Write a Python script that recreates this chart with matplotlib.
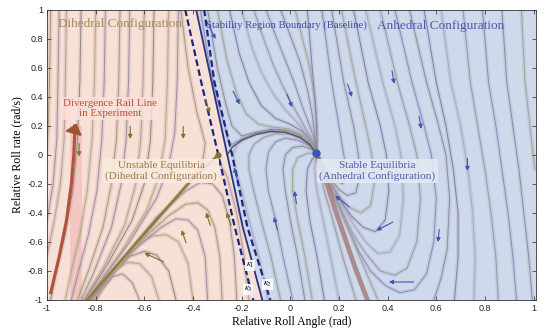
import matplotlib.pyplot as plt
import numpy as np

plt.rcParams['font.family'] = ['Liberation Serif', 'DejaVu Serif']
plt.rcParams['mathtext.fontset'] = 'stix'

# --- stability boundaries (x at the given y levels) ---
bnd_y = [1.0, 0.5, 0.0, -0.5, -1.0]
left_dash_x = [-0.432, -0.366, -0.296, -0.228, -0.152]
base_x = [-0.387, -0.323, -0.259, -0.195, -0.115]
right_dash_x = [-0.354, -0.312, -0.239, -0.176, -0.082]

# --- special trajectories ---
rail_x = [-0.885, -0.89, -0.90, -0.92, -0.95, -0.985]
rail_y = [0.2, 0.0, -0.2, -0.45, -0.7, -0.95]
diag_x = [-0.835, -0.63, -0.42, -0.36, -0.296]
diag_y = [-1.0, -0.6, -0.2, -0.1, 0.0]
arc_x = [-0.259, -0.24, -0.2, -0.14, -0.08, -0.02, 0.04, 0.08, 0.107]
arc_y = [0.0, 0.05, 0.1, 0.14, 0.16, 0.155, 0.12, 0.07, 0.01]
sep_x = [0.107, 0.13, 0.155, 0.185, 0.22, 0.265, 0.317]
sep_y = [0.01, -0.1, -0.22, -0.38, -0.55, -0.77, -1.0]

# --- trajectories, dihedral side ---
dihedral_curves = [
    [(-0.985, 1), (-0.99, 0.5), (-0.995, 0.2), (-1.0, 0.0)],
    [(-0.95, 1), (-0.955, 0.5), (-0.96, 0.1), (-0.975, -0.2), (-1.0, -0.45)],
    [(-0.92, 1), (-0.925, 0.5), (-0.93, 0.1), (-0.945, -0.2), (-0.97, -0.45), (-1.0, -0.7)],
    [(-0.86, 1), (-0.865, 0.5), (-0.875, 0.1), (-0.895, -0.25), (-0.925, -0.55), (-0.96, -0.8), (-0.985, -1)],
    [(-0.80, 1), (-0.805, 0.5), (-0.815, 0.1), (-0.835, -0.25), (-0.865, -0.55), (-0.9, -0.8), (-0.925, -1)],
    [(-0.76, 1), (-0.765, 0.5), (-0.775, 0.1), (-0.795, -0.25), (-0.83, -0.55), (-0.87, -0.8), (-0.9, -1)],
    [(-0.70, 1), (-0.705, 0.5), (-0.715, 0.1), (-0.735, -0.2), (-0.77, -0.5), (-0.83, -0.8), (-0.875, -1)],
    [(-0.66, 1), (-0.665, 0.5), (-0.675, 0.1), (-0.695, -0.2), (-0.735, -0.5), (-0.81, -0.82), (-0.86, -1)],
    [(-0.60, 1), (-0.605, 0.5), (-0.615, 0.1), (-0.635, -0.2), (-0.68, -0.48), (-0.77, -0.78), (-0.85, -1)],
    [(-0.56, 1), (-0.565, 0.5), (-0.575, 0.1), (-0.60, -0.2), (-0.65, -0.45), (-0.75, -0.75), (-0.845, -1)],
    [(-0.50, 1), (-0.505, 0.5), (-0.515, 0.1), (-0.54, -0.15), (-0.59, -0.38), (-0.70, -0.68), (-0.84, -1)],
    [(-0.46, 1), (-0.465, 0.5), (-0.475, 0.15), (-0.50, -0.08), (-0.55, -0.3), (-0.66, -0.6), (-0.835, -1)],
    [(-0.45, 1), (-0.42, 0.6), (-0.385, 0.3), (-0.35, 0.08), (-0.36, -0.05), (-0.42, -0.2), (-0.63, -0.6), (-0.835, -1)],
    # arcs under the separatrix
    [(-0.62, -1), (-0.65, -0.88), (-0.69, -0.82), (-0.73, -0.84), (-0.77, -0.92), (-0.80, -1)],
    [(-0.54, -1), (-0.57, -0.84), (-0.62, -0.75), (-0.67, -0.74), (-0.72, -0.8), (-0.77, -0.91), (-0.81, -1)],
    [(-0.47, -1), (-0.50, -0.8), (-0.55, -0.69), (-0.60, -0.665), (-0.66, -0.7), (-0.72, -0.8), (-0.78, -0.92), (-0.82, -1)],
    [(-0.40, -1), (-0.42, -0.75), (-0.46, -0.6), (-0.51, -0.55), (-0.57, -0.56), (-0.62, -0.62), (-0.67, -0.7), (-0.72, -0.8), (-0.765, -0.9), (-0.80, -1)],
    [(-0.34, -1), (-0.35, -0.7), (-0.38, -0.52), (-0.42, -0.45), (-0.47, -0.44), (-0.53, -0.5), (-0.62, -0.62), (-0.70, -0.75), (-0.79, -0.92), (-0.815, -1)],
    [(-0.28, -1), (-0.29, -0.7), (-0.31, -0.5), (-0.34, -0.38), (-0.38, -0.33), (-0.43, -0.34), (-0.5, -0.42), (-0.6, -0.57), (-0.7, -0.74), (-0.8, -0.94), (-0.82, -1)],
    [(-0.22, -1), (-0.23, -0.7), (-0.25, -0.45), (-0.28, -0.28), (-0.32, -0.2), (-0.37, -0.19), (-0.43, -0.25), (-0.55, -0.43), (-0.68, -0.7), (-0.825, -1)],
    [(-0.17, -1), (-0.19, -0.7), (-0.22, -0.4), (-0.26, -0.15), (-0.29, -0.06), (-0.33, -0.06), (-0.38, -0.13), (-0.43, -0.22), (-0.6, -0.56), (-0.83, -1)],
]

# --- trajectories, anhedral side ---
anhedral_curves = [
    [(-0.37, 1), (-0.33, 0.6), (-0.295, 0.35), (-0.27, 0.2), (-0.255, 0.1), (-0.24, 0.07), (-0.2, 0.11), (-0.14, 0.15), (-0.08, 0.168), (-0.02, 0.163), (0.04, 0.128), (0.08, 0.075), (0.107, 0.015)],
    [(-0.34, 1), (-0.30, 0.6), (-0.265, 0.35), (-0.24, 0.2), (-0.2, 0.13), (-0.14, 0.155), (-0.08, 0.175), (-0.02, 0.17), (0.04, 0.135), (0.085, 0.075), (0.107, 0.02)],
    [(-0.30, 1), (-0.26, 0.65), (-0.22, 0.42), (-0.18, 0.28), (-0.13, 0.21), (-0.07, 0.19), (-0.01, 0.18), (0.05, 0.14), (0.09, 0.08), (0.107, 0.02)],
    [(-0.25, 1), (-0.21, 0.7), (-0.17, 0.5), (-0.12, 0.34), (-0.06, 0.25), (0.0, 0.21), (0.05, 0.16), (0.09, 0.09), (0.107, 0.02)],
    [(-0.20, 1), (-0.16, 0.75), (-0.12, 0.57), (-0.07, 0.42), (-0.02, 0.31), (0.03, 0.22), (0.07, 0.14), (0.1, 0.07), (0.107, 0.02)],
    [(-0.15, 1), (-0.11, 0.8), (-0.07, 0.62), (-0.03, 0.47), (0.01, 0.34), (0.05, 0.22), (0.08, 0.13), (0.1, 0.06), (0.107, 0.02)],
    [(-0.10, 1), (-0.06, 0.82), (-0.02, 0.65), (0.02, 0.48), (0.05, 0.33), (0.08, 0.2), (0.1, 0.1), (0.107, 0.02)],
    [(-0.04, 1), (0.0, 0.82), (0.04, 0.64), (0.07, 0.45), (0.09, 0.28), (0.1, 0.14), (0.107, 0.02)],
    [(0.02, 1), (0.05, 0.8), (0.08, 0.6), (0.1, 0.4), (0.11, 0.2), (0.108, 0.03)],
    [(0.07, 1), (0.09, 0.6), (0.105, 0.3), (0.11, 0.1), (0.108, 0.02)],
    # rising from the bottom into the stable point
    [(-0.09, -1), (-0.13, -0.7), (-0.17, -0.45), (-0.2, -0.25), (-0.225, -0.1), (-0.235, 0.0), (-0.22, 0.07), (-0.18, 0.115), (-0.12, 0.15), (-0.06, 0.163), (0.0, 0.155), (0.05, 0.115), (0.09, 0.06), (0.107, 0.01)],
    [(-0.04, -1), (-0.08, -0.7), (-0.12, -0.45), (-0.15, -0.25), (-0.17, -0.1), (-0.17, 0.0), (-0.15, 0.07), (-0.11, 0.12), (-0.06, 0.145), (0.0, 0.14), (0.05, 0.105), (0.09, 0.055), (0.107, 0.01)],
    [(0.01, -1), (-0.03, -0.7), (-0.06, -0.45), (-0.09, -0.25), (-0.1, -0.1), (-0.09, 0.02), (-0.06, 0.09), (-0.02, 0.115), (0.03, 0.1), (0.07, 0.07), (0.1, 0.03), (0.107, 0.01)],
    [(0.06, -1), (0.03, -0.7), (0.0, -0.45), (-0.02, -0.25), (-0.03, -0.1), (-0.02, 0.0), (0.01, 0.05), (0.05, 0.06), (0.09, 0.035), (0.107, 0.01)],
    [(0.09, -1), (0.06, -0.7), (0.03, -0.45), (0.01, -0.25), (0.01, -0.1), (0.03, -0.02), (0.07, 0.01), (0.107, 0.01)],
    [(0.14, -1), (0.11, -0.7), (0.08, -0.45), (0.065, -0.25), (0.07, -0.1), (0.09, -0.03), (0.107, 0.0)],
    [(0.2, -1), (0.165, -0.7), (0.135, -0.45), (0.11, -0.25), (0.1, -0.1), (0.105, -0.01)],
    [(0.27, -1), (0.215, -0.7), (0.175, -0.45), (0.14, -0.25), (0.12, -0.1), (0.11, -0.01)],
    # U-shaped trajectories right of the stable point
    [(0.13, 1), (0.17, 0.5), (0.2, 0.2), (0.22, 0.0), (0.23, -0.12), (0.215, -0.2), (0.18, -0.17), (0.14, -0.08), (0.115, 0.0)],
    [(0.17, 1), (0.22, 0.5), (0.26, 0.2), (0.28, 0.0), (0.285, -0.15), (0.27, -0.26), (0.235, -0.28), (0.2, -0.24), (0.16, -0.15), (0.125, -0.05), (0.11, 0.0)],
    [(0.21, 1), (0.27, 0.5), (0.31, 0.2), (0.335, 0.0), (0.345, -0.2), (0.33, -0.35), (0.29, -0.4), (0.24, -0.36), (0.195, -0.27), (0.155, -0.15), (0.12, -0.04)],
    [(0.26, 1), (0.32, 0.5), (0.37, 0.2), (0.395, 0.0), (0.405, -0.25), (0.39, -0.45), (0.35, -0.53), (0.3, -0.5), (0.25, -0.42), (0.2, -0.3), (0.16, -0.18), (0.125, -0.05)],
    [(0.31, 1), (0.38, 0.5), (0.43, 0.2), (0.455, 0.0), (0.465, -0.3), (0.45, -0.55), (0.41, -0.67), (0.36, -0.68), (0.31, -0.6), (0.26, -0.48), (0.21, -0.34), (0.165, -0.2), (0.13, -0.06)],
    [(0.37, 1), (0.44, 0.5), (0.49, 0.2), (0.52, 0.0), (0.535, -0.3), (0.52, -0.6), (0.48, -0.78), (0.43, -0.83), (0.37, -0.8), (0.31, -0.68), (0.26, -0.55), (0.215, -0.4), (0.17, -0.23), (0.135, -0.08)],
    [(0.43, 1), (0.5, 0.5), (0.55, 0.2), (0.58, 0.0), (0.6, -0.3), (0.59, -0.6), (0.56, -0.82), (0.51, -0.93), (0.45, -0.95), (0.39, -0.9), (0.33, -0.8), (0.28, -0.66), (0.235, -0.5), (0.19, -0.32), (0.15, -0.15)],
    [(0.49, 1), (0.56, 0.5), (0.61, 0.2), (0.64, 0.0), (0.655, -0.3), (0.645, -0.65), (0.62, -0.85), (0.59, -1.0)],
    [(0.36, -1), (0.31, -0.8), (0.265, -0.62), (0.225, -0.45), (0.185, -0.3), (0.15, -0.15), (0.12, -0.04)],
    # far right, nearly vertical
    [(0.55, 1), (0.6, 0.5), (0.64, 0.2), (0.67, -0.1), (0.69, -0.4), (0.69, -0.7), (0.675, -1.0)],
    [(0.62, 1), (0.66, 0.5), (0.7, 0.2), (0.73, -0.1), (0.75, -0.4), (0.76, -0.7), (0.755, -1)],
    [(0.71, 1), (0.74, 0.5), (0.77, 0.2), (0.8, -0.1), (0.825, -0.4), (0.845, -0.7), (0.855, -1)],
    [(0.79, 1), (0.815, 0.5), (0.845, 0.2), (0.87, -0.1), (0.895, -0.4), (0.915, -0.7), (0.93, -1)],
    [(0.87, 1), (0.89, 0.5), (0.915, 0.2), (0.94, -0.1), (0.96, -0.4), (0.98, -0.7), (0.995, -1)],
    [(0.95, 1), (0.965, 0.5), (0.985, 0.2), (1.005, -0.1)],
]

# arrows: (x, y, dx, dy) -- tip direction
blue_arrows = [(-0.317, 0.83, 0.015, -0.05), (-0.218, 0.38, 0.015, -0.05), (0.0, 0.36, 0.012, -0.05),
               (0.247, 0.43, 0.01, -0.05), (0.424, 0.52, 0.005, -0.05), (0.535, 0.21, 0.005, -0.05),
               (0.728, -0.08, 0.0, -0.05), (0.02, -0.28, -0.005, 0.05), (-0.062, -0.46, -0.008, 0.05),
               (-0.226, -0.12, -0.008, 0.05), (0.206, -0.31, -0.03, 0.04), (0.379, -0.50, -0.035, -0.03),
               (0.609, -0.57, -0.003, -0.05), (0.444, -0.876, -0.05, 0.0)]
olive_arrows = [(-0.658, 0.14, 0.0, -0.05), (-0.44, 0.14, 0.0, -0.05), (-0.868, 0.02, 0.0, -0.05),
                (-0.337, 0.32, 0.01, -0.05), (-0.57, -0.70, -0.04, 0.03), (-0.44, -0.55, -0.01, 0.05),
                (-0.34, -0.43, -0.01, 0.05), (-0.255, -0.43, -0.01, 0.05)]

ticks = [-1, -0.8, -0.6, -0.4, -0.2, 0, 0.2, 0.4, 0.6, 0.8, 1]
tick_labels = ['-1', '-0.8', '-0.6', '-0.4', '-0.2', '0', '0.2', '0.4', '0.6', '0.8', '1']

fig = plt.figure(figsize=(5.5, 3.35), dpi=100)
ax = fig.add_axes([0.0855, 0.1045, 0.889, 0.867])

# background regions
ax.fill_betweenx(bnd_y, -1.0, base_x, color='#f7e0d5', lw=0, zorder=0)
ax.fill_betweenx(bnd_y, base_x, 1.01, color='#cfd9ec', lw=0, zorder=0)
ax.fill_betweenx([-1.0, 0.2], -0.905, -0.856, color='#f3b4b4', alpha=0.55, lw=0, zorder=0.5)

left_cols = ['#a89a7a', '#9a8fa8', '#c49a98', '#8e8a8a', '#b8aa84', '#a08cb0']
right_cols = ['#8f88b8', '#8c8c96', '#a8a488', '#7f7fa8', '#b0a8c4', '#9a9aa0']


def draw_curves(curves, cols, under):
    for i, c in enumerate(curves):
        xs = [p[0] for p in c]
        ys = [p[1] for p in c]
        ax.plot(xs, ys, color=under, lw=3.0, alpha=0.2, solid_capstyle='round', zorder=1)
        ax.plot(xs, ys, color=cols[i % len(cols)], lw=0.7, zorder=1.5)


draw_curves(dihedral_curves, left_cols, '#9a8a80')
draw_curves(anhedral_curves, right_cols, '#8a8ea8')

# special trajectories
ax.plot(rail_x, rail_y, color='#b5523b', lw=2.2, zorder=2)
ax.plot(diag_x, diag_y, color='#8b7d3a', lw=1.8, zorder=2)
ax.plot(arc_x, arc_y, color='#555555', lw=1.0, zorder=2)
ax.plot(sep_x, sep_y, color='#9c6b66', lw=3.5, alpha=0.7, zorder=2)

# boundaries
ax.plot(left_dash_x, bnd_y, color='#1c2580', lw=1.6, ls=(0, (3, 1.6)), zorder=3)
ax.plot(base_x, bnd_y, color='#2a3380', lw=1.3, zorder=3)
ax.plot(right_dash_x, bnd_y, color='#1c2580', lw=1.6, ls=(0, (3, 1.6)), zorder=3)

for x, y, dx, dy in blue_arrows:
    ax.annotate('', xy=(x + dx, y + dy), xytext=(x - 1.5 * dx, y - 1.5 * dy),
                arrowprops=dict(arrowstyle='-|>', color='#3f55b0', lw=0.8, mutation_scale=6), zorder=4)
for x, y, dx, dy in olive_arrows:
    ax.annotate('', xy=(x + dx, y + dy), xytext=(x - 1.5 * dx, y - 1.5 * dy),
                arrowprops=dict(arrowstyle='-|>', color='#7a7428', lw=0.8, mutation_scale=6), zorder=4)

# rail arrow head
ax.annotate('', xy=(-0.876, 0.235), xytext=(-0.887, 0.17),
            arrowprops=dict(arrowstyle='-|>,head_width=0.5,head_length=0.6', color='#a0522d', lw=1.5,
                            mutation_scale=10), zorder=4)

# equilibria
ax.plot([0.107], [0.01], 'o', ms=5, color='#3d55b5', zorder=5)
ax.plot([-0.296], [0.0], 'o', ms=3.5, color='#7d7530', zorder=5)

# labels
ax.text(-0.70, 0.90, 'Dihedral Configuration', color='#a8875a', fontsize=9.5, ha='center', va='center', zorder=6)
ax.text(-0.016, 0.895, 'Stability Region Boundary (Baseline)', color='#3b4fa0', fontsize=7.7,
        ha='center', va='center', zorder=6)
ax.text(0.617, 0.89, 'Anhedral Configuration', color='#4a5aa5', fontsize=9.5, ha='center', va='center', zorder=6)
ax.text(-0.74, 0.32, 'Divergence Rail Line\nin Experiment', color='#b0553a', fontsize=7.8, ha='center',
        va='center', linespacing=1.1, zorder=6,
        bbox=dict(boxstyle='square,pad=0.2', fc='#fbe0da', ec='none', alpha=0.85))
ax.text(-0.531, -0.11, 'Unstable Equilibria\n(Dihedral Configuration)', color='#a07a45', fontsize=8,
        ha='center', va='center', linespacing=1.1, zorder=6,
        bbox=dict(boxstyle='square,pad=0.2', fc='#f9ebe0', ec='none', alpha=0.9))
ax.text(0.358, -0.11, 'Stable Equilibria\n(Anhedral Configuration)', color='#4a5aa8', fontsize=8.2,
        ha='center', va='center', linespacing=1.1, zorder=6,
        bbox=dict(boxstyle='square,pad=0.2', fc='#e3e9f4', ec='none', alpha=0.9))

kbox = dict(boxstyle='square,pad=0.1', fc='white', ec='none', alpha=0.9)
ax.text(-0.165, -0.76, r'$\kappa_1$', fontsize=6.5, ha='center', va='center', zorder=6, bbox=kbox)
ax.text(-0.095, -0.89, r'$\kappa_2$', fontsize=6.5, ha='center', va='center', zorder=6, bbox=kbox)
ax.text(-0.173, -0.93, r'$\kappa_3$', fontsize=6.5, ha='center', va='center', zorder=6, bbox=kbox)

ax.set_xlim(-1, 1.01)
ax.set_ylim(-1, 1)
ax.set_xticks(ticks)
ax.set_xticklabels(tick_labels, fontfamily='Liberation Sans', fontsize=6.5, color='#262626')
ax.set_yticks(ticks)
ax.set_yticklabels(tick_labels, fontfamily='Liberation Sans', fontsize=6.5, color='#262626')
ax.tick_params(direction='in', length=3, width=0.5, top=True, right=True, pad=3, colors='#262626')
for s in ax.spines.values():
    s.set_linewidth(0.6)
    s.set_color('#333333')
    s.set_zorder(7)

ax.set_xlabel('Relative Roll Angle (rad)', fontsize=8.5, labelpad=2)
ax.set_ylabel('Relative Roll rate (rad/s)', fontsize=8.5, labelpad=3)

fig.savefig('out.png', dpi=100)
